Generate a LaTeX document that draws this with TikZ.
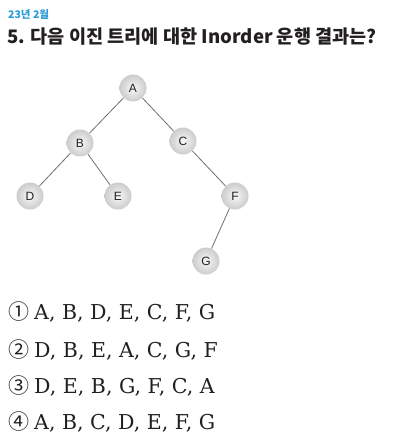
\documentclass[tikz,border=0pt]{standalone}
\usepackage{fontspec}
\setmainfont{DejaVu Serif}
\setsansfont{Liberation Sans}
\newfontfamily\kofont{Noto Sans CJK KR}
\definecolor{datecol}{HTML}{2A9AD8}
\definecolor{ink}{HTML}{231F20}
\definecolor{edgegray}{HTML}{6E6E6E}
\tikzset{
  treenode/.style={circle,minimum size=27pt,inner sep=0pt,shading=radial,inner color=gray!6,outer color=gray!40,font=\sffamily\fontsize{12}{12}\selectfont,text=ink},
  treeedge/.style={draw=edgegray,line width=0.8pt},
  choice/.style={anchor=west,inner sep=0pt,text=ink,font=\fontsize{20.5}{21}\selectfont}
}
\newcommand{\circnum}[1]{{\kofont\fontsize{21}{21}\selectfont #1}\hspace{5pt}}
\begin{document}
\begin{tikzpicture}[x=1pt,y=-1pt]
  \useasboundingbox (0,0) rectangle (400,442);
  % heading
  \node[anchor=west,inner sep=0pt,text=datecol,font=\kofont\bfseries\fontsize{10.5}{10.5}\selectfont] (date) at (8,15) {23년 2월};
  \node[anchor=west,inner sep=0pt,text=ink,font=\kofont\bfseries\fontsize{18.6}{18.6}\selectfont] (question) at (7,37) {5. 다음 이진 트리에 대한 Inorder 운행 결과는?};
  % tree
  \node[treenode] (A) at (133,88) {A};
  \node[treenode] (B) at (80,143) {B};
  \node[treenode] (C) at (183,141) {C};
  \node[treenode] (D) at (30,196) {D};
  \node[treenode] (E) at (118,196) {E};
  \node[treenode] (F) at (235,196) {F};
  \node[treenode] (G) at (206,261) {G};
  \draw[treeedge] (A) -- (B);
  \draw[treeedge] (A) -- (C);
  \draw[treeedge] (B) -- (D);
  \draw[treeedge] (B) -- (E);
  \draw[treeedge] (C) -- (F);
  \draw[treeedge] (F) -- (G);
  % choices
  \node[choice] (opt1) at (8,312) {\circnum{①}A, B, D, E, C, F, G};
  \node[choice] (opt2) at (8,350) {\circnum{②}D, B, E, A, C, G, F};
  \node[choice] (opt3) at (8,386) {\circnum{③}D, E, B, G, F, C, A};
  \node[choice] (opt4) at (8,422) {\circnum{④}A, B, C, D, E, F, G};
\end{tikzpicture}
\end{document}
